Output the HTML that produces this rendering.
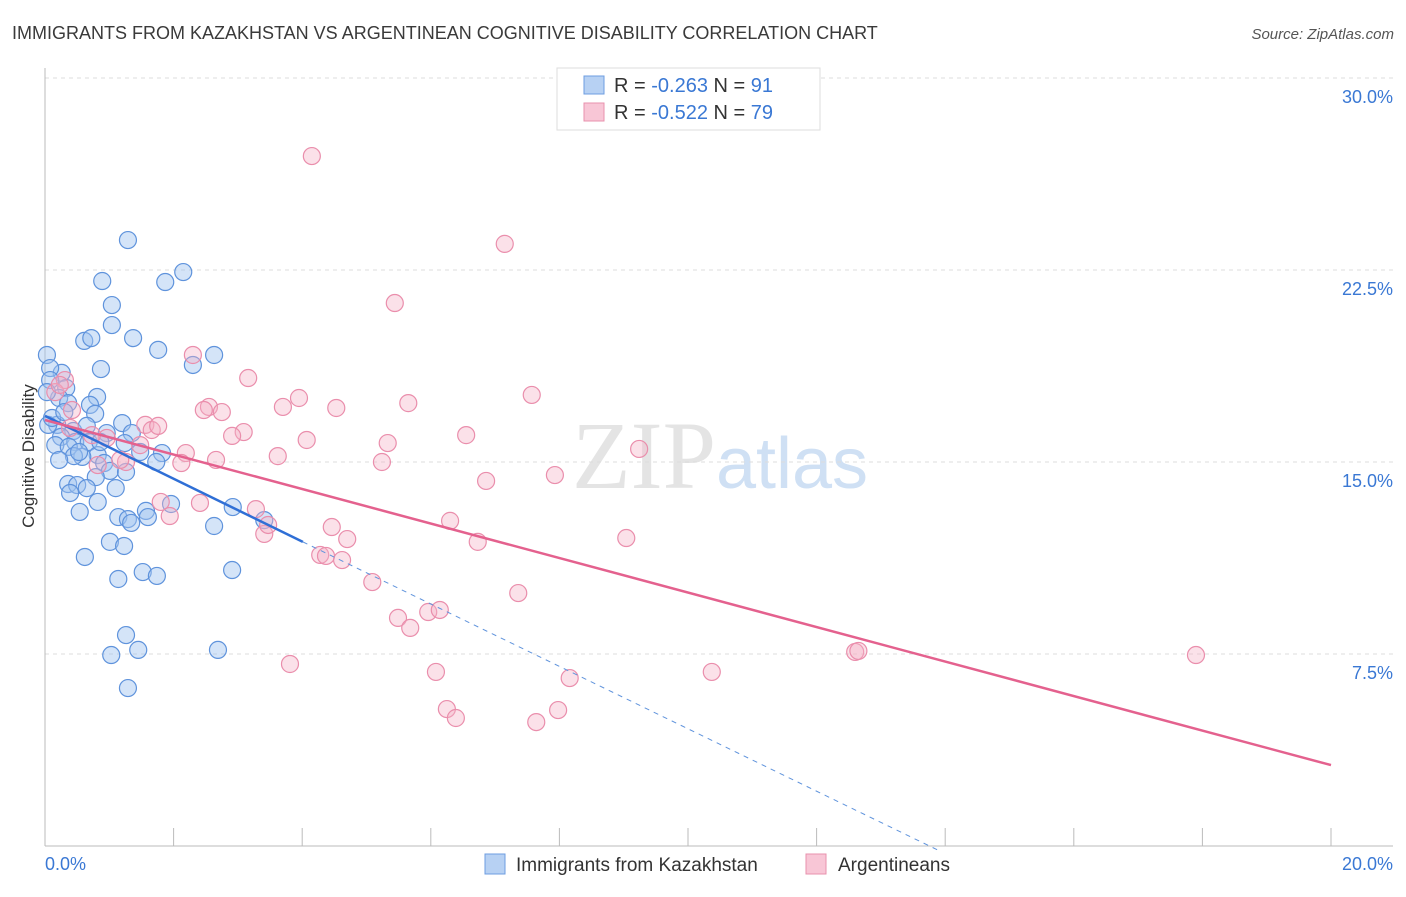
<!DOCTYPE html>
<html><head><meta charset="utf-8"><style>
body{margin:0;background:#fff;font-family:"Liberation Sans",sans-serif}
</style></head><body>
<svg id="chart" width="1406" height="892" xmlns="http://www.w3.org/2000/svg" font-family="Liberation Sans, sans-serif">
<text x="12" y="39" font-size="18" fill="#3a3a3a">IMMIGRANTS FROM KAZAKHSTAN VS ARGENTINEAN COGNITIVE DISABILITY CORRELATION CHART</text>
<text x="1394" y="39" font-size="15" fill="#555" text-anchor="end" font-style="italic">Source: ZipAtlas.com</text>
<text x="720" y="488" font-size="96" text-anchor="middle" fill="#e4e4e4" font-family="Liberation Serif, serif">ZIP<tspan fill="#cfe0f4" font-family="Liberation Sans, sans-serif" font-size="72">atlas</tspan></text>
<g id="grid"></g><g id="axes"></g><g id="marks"></g><g id="lines"></g>
<text transform="translate(34,456) rotate(-90)" font-size="17" fill="#333" text-anchor="middle">Cognitive Disability</text>
<g>
<rect x="557" y="68" width="263" height="62" fill="#fff" stroke="#ddd"/>
<rect x="584" y="76" width="20" height="18" fill="#b7d1f3" stroke="#6d9de0"/>
<text x="614" y="92" font-size="20" fill="#333">R = <tspan fill="#3a78d4">-0.263</tspan>   N =  <tspan fill="#3a78d4">91</tspan></text>
<rect x="584" y="103" width="20" height="18" fill="#f8c6d6" stroke="#e891ad"/>
<text x="614" y="119" font-size="20" fill="#333">R = <tspan fill="#3a78d4">-0.522</tspan>   N = <tspan fill="#3a78d4">79</tspan></text>
</g>
<g>
<rect x="485" y="854" width="20" height="20" fill="#b7d1f3" stroke="#6d9de0"/>
<text x="516" y="871" font-size="19" fill="#333">Immigrants from Kazakhstan</text>
<rect x="806" y="854" width="20" height="20" fill="#f8c6d6" stroke="#e891ad"/>
<text x="838" y="871" font-size="19" fill="#333">Argentineans</text>
</g>
</svg>
<script>
const blueX=[1.29,.89,1.87,2.15,1.04,1.04,1.37,.61,.72,1.76,2.63,2.30,.03,.87,.26,.08,.08,.33,.81,.22,.70,.36,.78,1.20,.19,.44,.05,.65,.96,1.35,.25,.47,.68,1.24,.16,.37,.82,.58,1.82,.45,1.48,.22,1.73,.92,1.01,1.26,.79,.36,.50,.65,1.10,.39,.82,1.96,2.92,.54,1.57,1.14,1.29,1.34,1.60,2.63,3.41,1.01,1.23,.62,2.91,1.52,1.74,1.14,1.26,1.03,1.45,2.69,1.29,.03,.11,.30,.53,.86];
const blueY=[23.67,22.07,22.03,22.42,21.13,20.35,19.84,19.73,19.84,19.38,19.18,18.79,19.18,18.63,18.48,18.67,18.20,17.89,17.54,17.50,17.23,17.30,16.88,16.52,16.45,16.21,16.45,16.41,16.13,16.13,15.98,15.78,15.78,15.74,15.66,15.59,15.27,15.20,15.35,15.23,15.39,15.08,15.00,14.96,14.65,14.61,14.41,14.14,14.10,13.98,13.98,13.79,13.44,13.36,13.24,13.05,13.09,12.85,12.77,12.62,12.85,12.50,12.73,11.88,11.72,11.29,10.78,10.70,10.55,10.43,8.24,7.46,7.66,7.66,6.17,17.73,16.72,16.95,15.39,15.78];
const pinkX=[4.15,7.15,5.44,2.30,3.16,7.57,3.95,5.65,2.55,3.70,4.53,2.75,2.47,1.56,1.66,1.76,3.09,2.91,4.07,5.33,6.55,9.24,2.19,3.62,2.66,1.26,2.12,5.24,7.93,6.86,.82,.96,2.41,1.80,3.28,1.94,4.46,6.30,4.70,3.41,6.73,9.04,4.28,4.37,4.62,5.09,7.36,5.49,5.96,6.14,5.68,3.81,6.08,8.16,10.37,12.60,17.90,6.25,6.39,7.64,7.98,.31,.16,.42,.23,.73,.39,1.17,1.48,3.47,12.65];
const pinkY=[26.95,23.52,21.21,19.18,18.28,17.62,17.50,17.30,17.15,17.15,17.11,16.95,17.03,16.45,16.25,16.41,16.17,16.02,15.86,15.74,16.05,15.51,15.35,15.23,15.08,15.00,14.96,15.00,14.49,14.26,14.88,15.94,13.40,13.44,13.16,12.89,12.46,12.70,11.99,12.19,11.88,12.03,11.37,11.33,11.17,10.31,9.88,8.91,9.14,9.22,8.52,7.11,6.80,6.56,6.80,7.58,7.46,5.35,5.00,4.84,5.31,18.20,17.73,17.03,18.01,16.05,16.33,15.08,15.66,12.54,7.62];
const yTicks=[7.5,15,22.5,30];
const yTickLabels=["7.5%","15.0%","22.5%","30.0%"];
const xTicks=[0,2,4,6,8,10,12,14,16,18,20];
const blueTrend=[[0,16.8],[4.01,11.88],[13.92,-0.2]];
const pinkTrend=[[0,16.64],[20,3.16]];
const NS="http://www.w3.org/2000/svg";
const sx=v=>45+v/20*1286, sy=v=>846-v/30*768;
function mk(tag,attrs,parent){const e=document.createElementNS(NS,tag);for(const k in attrs)e.setAttribute(k,attrs[k]);document.getElementById(parent).appendChild(e);return e;}
yTicks.forEach((t,i)=>{
 const l=mk('line',{x1:45,x2:1393,y1:sy(t),y2:sy(t),stroke:'#ddd','stroke-dasharray':'4,4'},'grid');
 
 
 const tx=mk('text',{x:1393,y:sy(t)+25,'font-size':18,fill:'#3a78d4','text-anchor':'end'},'grid');
 tx.textContent=yTickLabels[i];
 
 
});
const ax=mk('line',{x1:45,x2:45,y1:68,y2:846,stroke:'#bbb'},'axes');


const bx=mk('line',{x1:45,x2:1393,y1:846,y2:846,stroke:'#bbb'},'axes');


xTicks.forEach(t=>{
 const l=mk('line',{x1:sx(t),x2:sx(t),y1:828,y2:846,stroke:'#bbb'},'axes');
 
 
});
[[0,"0.0%","start",45],[20,"20.0%","end",1393]].forEach(a=>{
 const t=mk('text',{x:a[3],y:870,'font-size':18,fill:'#3a78d4','text-anchor':a[2]},'axes');
 t.textContent=a[1];
 
 
});
blueX.forEach((x,i)=>{
 const c=mk('circle',{cx:sx(x),cy:sy(blueY[i]),r:8.5,fill:'rgba(160,196,240,0.45)',stroke:'#5f93dc','stroke-width':1.2},'marks');
 
 
});
pinkX.forEach((x,i)=>{
 const c=mk('circle',{cx:sx(x),cy:sy(pinkY[i]),r:8.5,fill:'rgba(245,175,198,0.38)',stroke:'#ea8eac','stroke-width':1.2},'marks');
 
 
});
const b1=mk('line',{x1:sx(blueTrend[0][0]),y1:sy(blueTrend[0][1]),x2:sx(blueTrend[1][0]),y2:sy(blueTrend[1][1]),stroke:'#2f6fd6','stroke-width':2.5},'lines');


const b2=mk('line',{x1:sx(blueTrend[1][0]),y1:sy(blueTrend[1][1]),x2:sx(blueTrend[2][0]),y2:sy(blueTrend[2][1]),stroke:'#5f93dc','stroke-width':1,'stroke-dasharray':'5,5'},'lines');


const p1=mk('line',{x1:sx(pinkTrend[0][0]),y1:sy(pinkTrend[0][1]),x2:sx(pinkTrend[1][0]),y2:sy(pinkTrend[1][1]),stroke:'#e4618e','stroke-width':2.5},'lines');


</script>
</body></html>
